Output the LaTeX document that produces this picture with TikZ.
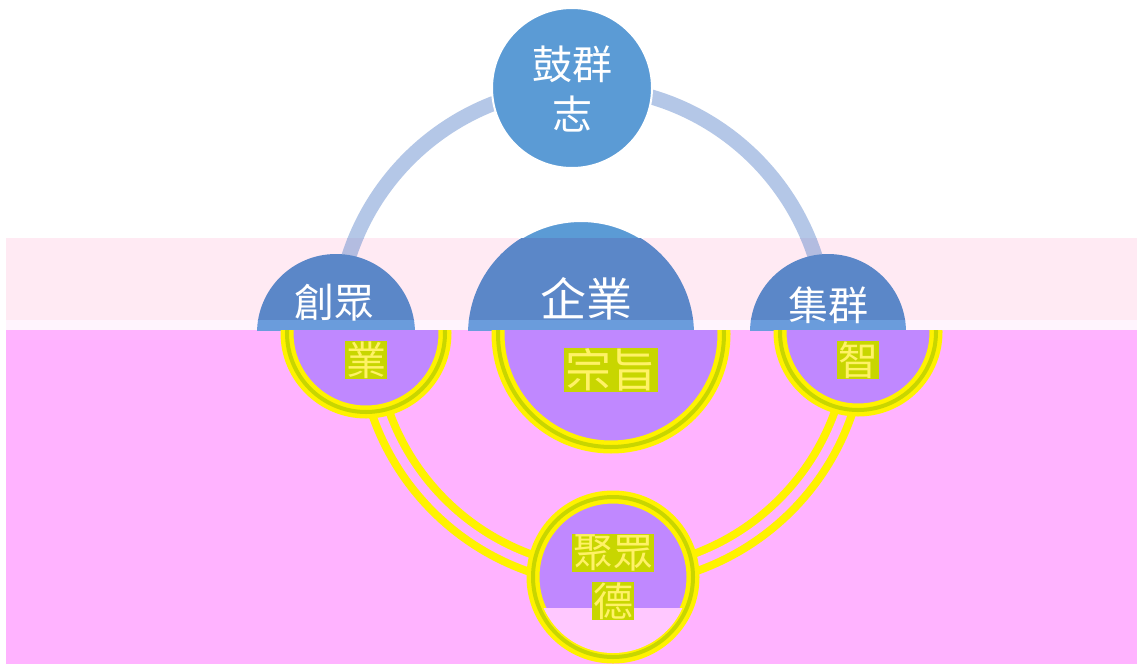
\documentclass[tikz,border=0pt]{standalone}
\usepackage{fontspec}
\newfontfamily\cjk{Noto Sans CJK TC}
\definecolor{ringblue}{HTML}{B4C7E7}
\definecolor{circblue}{HTML}{5B9BD5}
\definecolor{bandpink}{HTML}{FFEAF3}
\definecolor{bandcirc}{HTML}{5B87C8}
\definecolor{bandring}{HTML}{B3BCE0}
\definecolor{strippink}{HTML}{FFF4FD}
\definecolor{stripcirc}{HTML}{6A9CDC}
\definecolor{magpink}{HTML}{FFB3FF}
\definecolor{purp}{HTML}{C088FF}
\definecolor{olivec}{HTML}{C8D600}
\definecolor{yelt}{HTML}{FFF266}
\definecolor{lightpinkc}{HTML}{FFC8FF}
\tikzset{
 bub/.style 2 args={circle, inner sep=0pt, fill=#1, #2},
 lbl/.style 2 args={inner sep=1pt, text=#1, fill=#2},
 smallf/.style={font=\cjk\fontsize{40}{40}\selectfont},
 bigf/.style={font=\cjk\fontsize{46}{46}\selectfont},
}
% shapes of one colour layer: #1 suffix, #2 shift, #3 circle fill, #4 ring style, #5 circle outline, #6 extra code
\newcommand\drawlayer[6]{%
 \begin{scope}[xshift=#2]
 \draw[#4] (582,332) circle[radius=245pt];
 \node[bub={#3}{#5}, minimum size=160pt] (top#1) at (572,88) {};
 \node[bub={#3}{#5}, minimum size=158pt] (left#1) at (336,333) {};
 \node[bub={#3}{#5}, minimum size=226pt] (mid#1) at (581,334) {};
 \node[bub={#3}{#5}, minimum size=156pt] (right#1) at (828,332) {};
 \node[bub={#3}{#5}, minimum size=160pt] (bot#1) at (583,577) {};
 #6
 \end{scope}}
\begin{document}
\begin{tikzpicture}[x=1pt,y=-1pt]
\useasboundingbox (0,0) rectangle (1137,664);
\fill[white] (0,0) rectangle (1137,664);
\fill[bandpink] (6,238) rectangle (1137,320);
\fill[strippink] (6,320) rectangle (1137,330);
\fill[magpink] (6,330) rectangle (1137,664);
% region above the band
\begin{scope}
 \clip (0,0) rectangle (1137,238);
 \drawlayer{A}{0pt}{circblue}{draw=ringblue, line width=15pt}{draw=white, line width=2pt}{}
\end{scope}
% pale pink band
\begin{scope}
 \clip (0,238) rectangle (1137,320);
 \drawlayer{B}{0pt}{bandcirc}{draw=bandring, line width=15pt}{draw=none}{}
\end{scope}
% thin light strip
\begin{scope}
 \clip (0,320) rectangle (1137,330);
 \drawlayer{C}{0pt}{stripcirc}{draw=bandring, line width=15pt}{draw=none}{}
\end{scope}
% magenta lower region
\begin{scope}
 \clip (0,330) rectangle (1137,664);
 \drawlayer{D}{30pt}{purp}{draw=yellow, line width=8pt, double=magpink, double distance=9pt}{draw=yellow, line width=13pt, postaction={draw=olivec, line width=4pt}}{%
  \begin{scope}
   \clip (583,577) circle[radius=76pt];
   \fill[lightpinkc] (480,608) rectangle (700,680);
  \end{scope}}
\end{scope}
% texts
\node[lbl={white}{none}, smallf] (ta) at (572,64) {鼓群};
\node[lbl={white}{none}, smallf] (tb) at (572,114) {志};
\node[lbl={white}{none}, smallf] (la) at (334,303) {創眾};
\node[lbl={white}{none}, bigf] (ma) at (586,299) {企業};
\node[lbl={white}{none}, smallf] (ra) at (828,305) {集群};
\begin{scope}[xshift=30pt]
\node[lbl={yelt}{olivec}, smallf] (lb) at (336,360) {業};
\node[lbl={yelt}{olivec}, bigf] (mb) at (581,370) {宗旨};
\node[lbl={yelt}{olivec}, smallf] (rb) at (828,360) {智};
\node[lbl={yelt}{olivec}, smallf] (ba) at (583,553) {聚眾};
\node[lbl={yelt}{olivec}, smallf] (bb) at (583,601) {德};
\end{scope}
\end{tikzpicture}
\end{document}
